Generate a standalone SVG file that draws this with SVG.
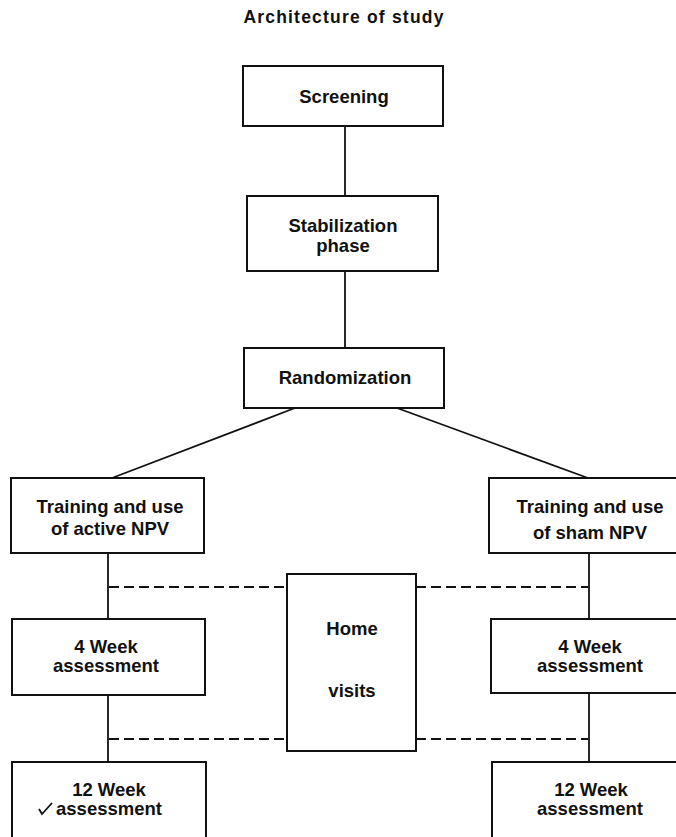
<svg xmlns="http://www.w3.org/2000/svg" width="676" height="837" viewBox="0 0 676 837">
<style>
  .box { fill: #fff; stroke: #111; stroke-width: 2; }
  .t { font-family: "Liberation Sans", Arial, sans-serif; font-size: 18.5px; font-weight: bold; fill: #111; text-anchor: middle; }
  .title { font-family: "Liberation Sans", Arial, sans-serif; font-size: 17.5px; font-weight: bold; letter-spacing: 1.2px; fill: #111; text-anchor: middle; }
  .ln { stroke: #111; stroke-width: 1.8; fill: none; }
  .dash { stroke: #111; stroke-width: 1.8; fill: none; stroke-dasharray: 10 5; }
</style>
<rect x="0" y="0" width="676" height="837" fill="#fff"/>
<text class="title" x="344" y="23">Architecture of study</text>

<g id="connectors">
  <line class="ln" x1="345" y1="126" x2="345" y2="196"/>
  <line class="ln" x1="345" y1="271" x2="345" y2="348"/>
  <line class="ln" x1="295" y1="408" x2="112" y2="478"/>
  <line class="ln" x1="397" y1="408" x2="588" y2="478"/>
  <line class="ln" x1="108" y1="553" x2="108" y2="619"/>
  <line class="ln" x1="108" y1="695" x2="108" y2="762"/>
  <line class="ln" x1="589" y1="553" x2="589" y2="619"/>
  <line class="ln" x1="589" y1="693" x2="589" y2="762"/>
  <line class="dash" x1="109" y1="587" x2="287" y2="587"/>
  <line class="dash" x1="416" y1="587" x2="588" y2="587"/>
  <line class="dash" x1="109" y1="739" x2="287" y2="739"/>
  <line class="dash" x1="416" y1="739" x2="588" y2="739"/>
</g>

<g id="screening">
  <rect class="box" x="243" y="66" width="200" height="60"/>
  <text class="t" x="344" y="103">Screening</text>
</g>
<g id="stabilization">
  <rect class="box" x="247" y="196" width="191" height="75"/>
  <text class="t" x="343" y="232">Stabilization</text>
  <text class="t" x="343" y="252">phase</text>
</g>
<g id="randomization">
  <rect class="box" x="244" y="348" width="200" height="60"/>
  <text class="t" x="345" y="384">Randomization</text>
</g>
<g id="training-active">
  <rect class="box" x="11" y="478" width="193" height="75"/>
  <text class="t" x="110" y="513">Training and use</text>
  <text class="t" x="110" y="535">of active NPV</text>
</g>
<g id="training-sham">
  <rect class="box" x="489" y="478" width="190" height="75"/>
  <text class="t" x="590" y="513">Training and use</text>
  <text class="t" x="590" y="539">of sham NPV</text>
</g>
<g id="home-visits">
  <rect class="box" x="287" y="574" width="129" height="177"/>
  <text class="t" x="352" y="635">Home</text>
  <text class="t" x="352" y="697">visits</text>
</g>
<g id="week4-active">
  <rect class="box" x="12" y="619" width="193" height="76"/>
  <text class="t" x="106" y="653">4 Week</text>
  <text class="t" x="106" y="672">assessment</text>
</g>
<g id="week4-sham">
  <rect class="box" x="491" y="619" width="190" height="74"/>
  <text class="t" x="590" y="653">4 Week</text>
  <text class="t" x="590" y="672">assessment</text>
</g>
<g id="week12-active">
  <rect class="box" x="12" y="762" width="194" height="82"/>
  <text class="t" x="109" y="796">12 Week</text>
  <text class="t" x="109" y="815">assessment</text>
  <path class="ln" d="M39 809 L42 814 L52 803" stroke-width="1.2"/>
</g>
<g id="week12-sham">
  <rect class="box" x="492" y="762" width="190" height="82"/>
  <text class="t" x="591" y="796">12 Week</text>
  <text class="t" x="590" y="815">assessment</text>
</g>
</svg>
